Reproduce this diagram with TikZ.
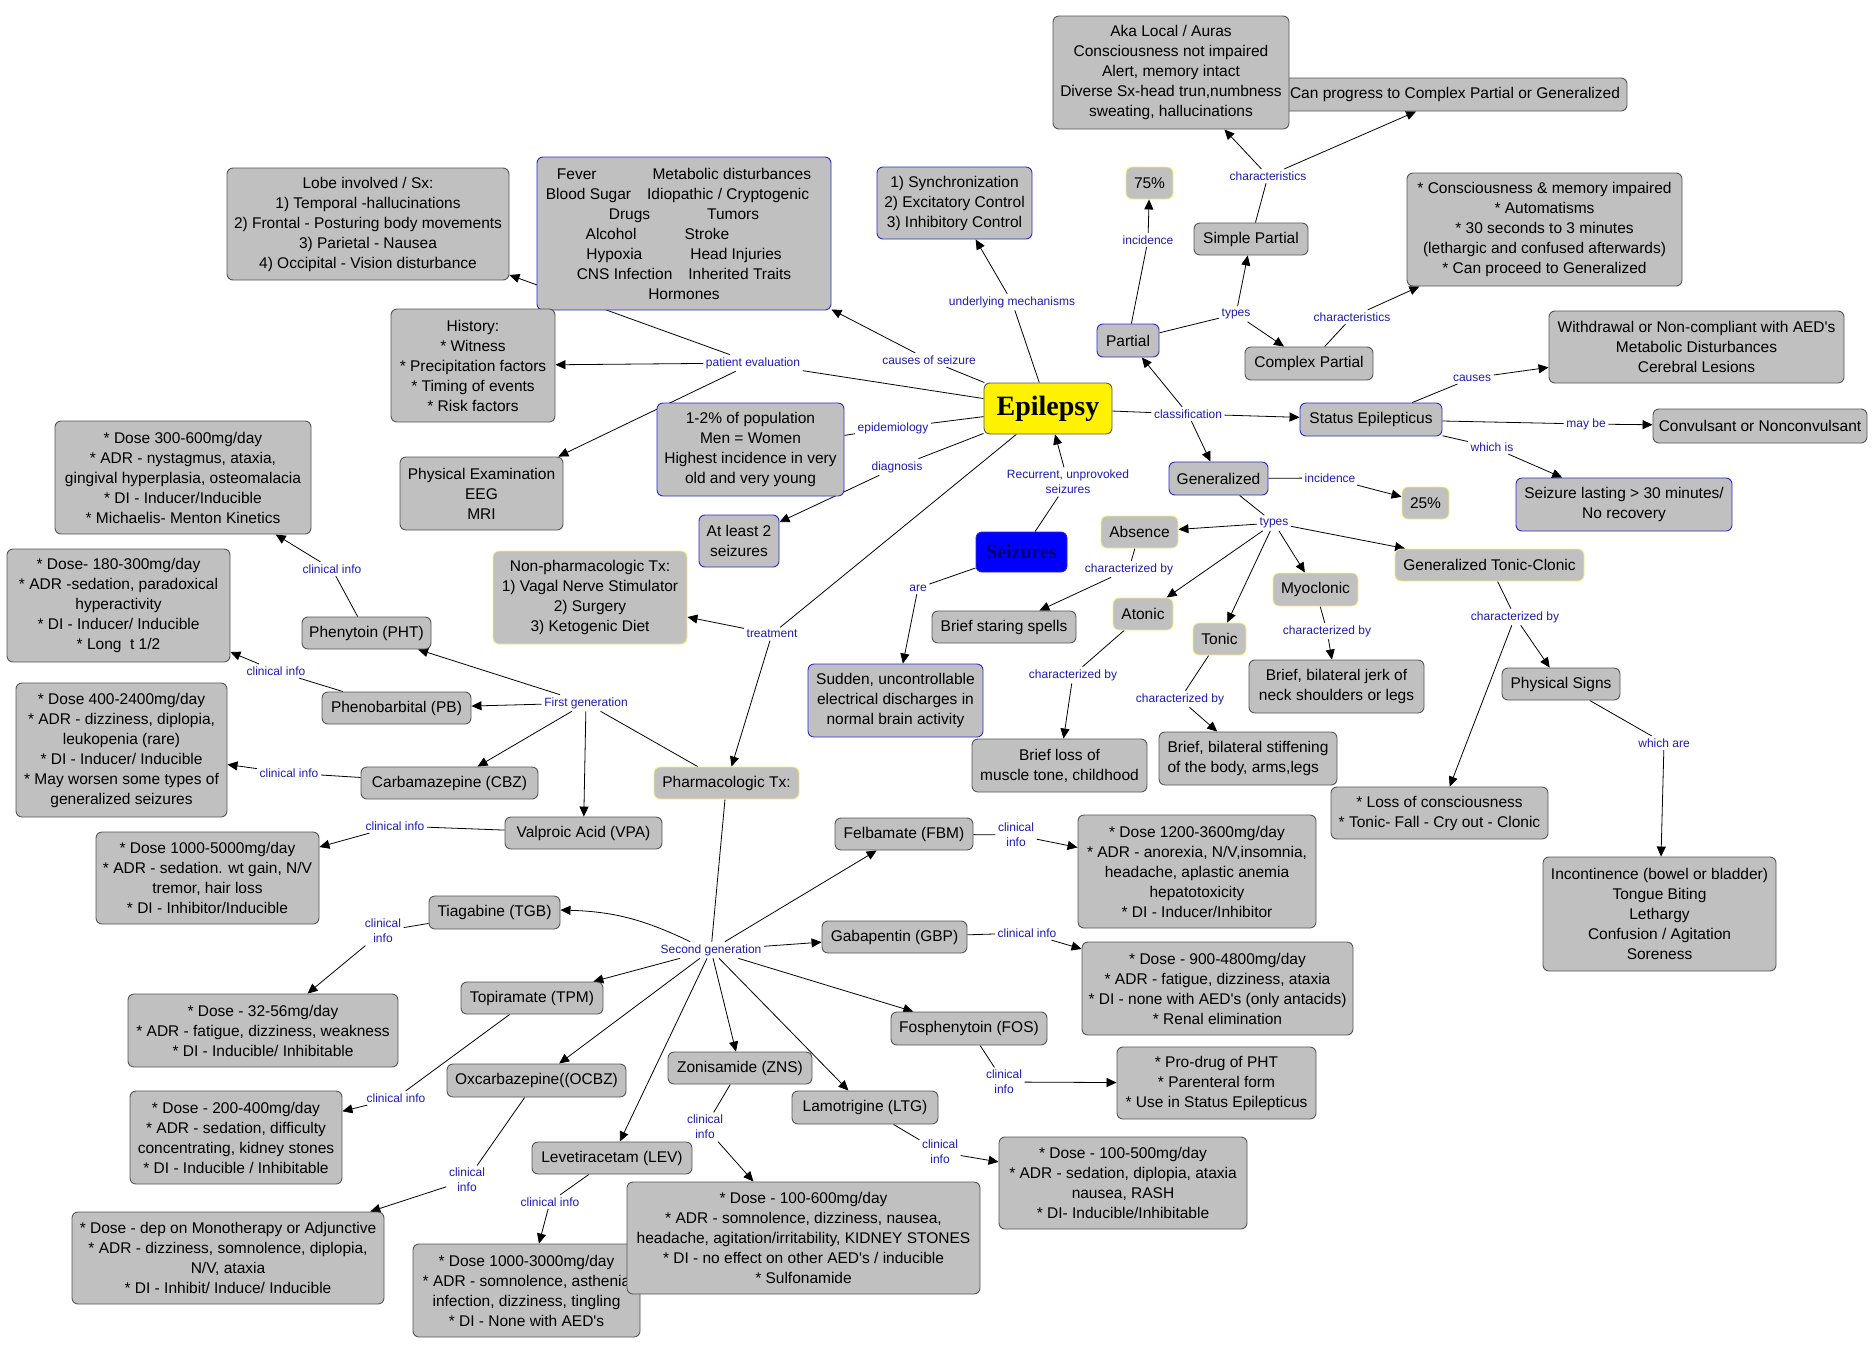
\documentclass[tikz,border=0pt]{standalone}
\usepackage{fontspec}
\setmainfont{Liberation Sans}[Ligatures=TeXOff]
\newfontfamily\titlefont{Liberation Serif}
\usetikzlibrary{arrows.meta, backgrounds}
\definecolor{conceptgray}{HTML}{C0C0C0}
\definecolor{edgegray}{HTML}{555555}
\definecolor{edgeblue}{HTML}{2A2ACF}
\definecolor{edgeyellow}{HTML}{F2F27A}
\definecolor{linkblue}{HTML}{1C1CB0}
\definecolor{seizblue}{HTML}{0000FF}
\definecolor{seiztext}{HTML}{000070}
\newcommand\colgap[1]{\rule{#1pt}{0pt}}

\begin{document}
\begin{tikzpicture}[x=1pt, y=-1pt,
  cpt/.style={draw=edgegray, line width=0.9pt, fill=conceptgray, rounded corners=6pt, align=center, inner sep=1pt, font=\fontsize{15.5}{20}\selectfont},
  cptb/.style={cpt, draw=edgeblue},
  cpty/.style={cpt, draw=edgeyellow},
  sz/.style 2 args={minimum width=#1pt, minimum height=#2pt},
  lnk/.style={text=linkblue, align=center, inner sep=2.5pt, font=\fontsize{12}{15}\selectfont},
  con/.style={draw=black, line width=0.8pt},
  rel/.style={con, -{Triangle[length=10pt, width=9pt]}}]
  \useasboundingbox (0,0) rectangle (1873,1353);
  % central concepts
  \node[cpt, fill=yellow, draw=edgegray, sz={128}{51}, font=\titlefont\bfseries\fontsize{28}{30}\selectfont] (epil) at (1048,408.5) {Epilepsy};
  \node[cpt, fill=seizblue, draw=edgeblue, sz={91}{40}, text=seiztext, font=\titlefont\bfseries\fontsize{20}{22}\selectfont] (seiz) at (1021.5,552) {Seizures};
  % left upper part
  \node[cpt, sz={282}{112}] (lobe) at (368,224) {Lobe involved / Sx:\\ 1) Temporal -hallucinations\\ 2) Frontal - Posturing body movements\\ 3) Parietal - Nausea\\ 4) Occipital - Vision disturbance};
  \node[cptb, sz={294}{153}] (causes) at (684,233.5) {Fever\colgap{56}Metabolic disturbances\\ Blood Sugar\colgap{16}Idiopathic / Cryptogenic\colgap{13}\\ Drugs\colgap{57}Tumors\\ Alcohol\colgap{48}Stroke\colgap{53}\\ Hypoxia\colgap{48}Head Injuries\\ CNS Infection\colgap{16}Inherited Traits\\ Hormones};
  \node[cptb, sz={155}{72}] (mech) at (954.5,203) {1) Synchronization\\ 2) Excitatory Control\\ 3) Inhibitory Control};
  \node[cpt, sz={164}{113}] (history) at (473,365.5) {History:\\ * Witness\\ * Precipitation factors\\ * Timing of events\\ * Risk factors};
  \node[cpt, sz={163}{73}] (pexam) at (481.5,493.5) {Physical Examination\\ EEG\\ MRI};
  \node[cptb, sz={187}{93}] (epibox) at (750.5,449.5) {1-2\% of population\\ Men = Women\\ Highest incidence in very\\ old and very young};
  \node[cptb, sz={80}{52}] (atleast) at (739,541) {At least 2\\ seizures};
  \node[cpty, sz={194}{93}] (nonpharm) at (590,597.5) {Non-pharmacologic Tx:\\ 1) Vagal Nerve Stimulator\\ 2) Surgery\\ 3) Ketogenic Diet};
  \node[cpty, sz={145}{32}] (pharm) at (726.5,783) {Pharmacologic Tx:};
  \node[cptb, sz={175}{73}] (sudden) at (895.5,700.5) {Sudden, uncontrollable\\ electrical discharges in\\ normal brain activity};
  % partial and status
  \node[cpt, sz={344}{33}] (canprog) at (1455,94.5) {Can progress to Complex Partial or Generalized};
  \node[cpt, sz={236}{113}] (aka) at (1171,72.5) {Aka Local / Auras\\ Consciousness not impaired\\ Alert, memory intact\\ Diverse Sx-head trun,numbness\\ sweating, hallucinations};
  \node[cpty, sz={47}{32}] (p75) at (1149.5,183) {75\%};
  \node[cpt, sz={114}{32}] (simple) at (1251,239) {Simple Partial};
  \node[cptb, sz={62}{33}] (partial) at (1128,340.5) {Partial};
  \node[cpt, sz={128}{33}] (complex) at (1309,363.5) {Complex Partial};
  \node[cpt, sz={275}{113}] (cpchar) at (1544.5,229.5) {* Consciousness \& memory impaired\\ * Automatisms\\ * 30 seconds to 3 minutes\\ (lethargic and confused afterwards)\\ * Can proceed to Generalized};
  \node[cptb, sz={142}{33}] (status) at (1371,419.5) {Status Epilepticus};
  \node[cpt, sz={295}{72}] (stcauses) at (1696.5,347) {Withdrawal or Non-compliant with AED's\\ Metabolic Disturbances\\ Cerebral Lesions};
  \node[cpt, sz={214}{34}] (convuls) at (1760,426) {Convulsant or Nonconvulsant};
  \node[cptb, sz={216}{53}] (lasting) at (1624,504.5) {Seizure lasting > 30 minutes/\\ No recovery};
  % generalized
  \node[cptb, sz={99}{33}] (general) at (1218.5,478.5) {Generalized};
  \node[cpty, sz={47}{32}] (p25) at (1425.5,503) {25\%};
  \node[cpty, sz={77}{32}] (absence) at (1139.5,532) {Absence};
  \node[cpt, sz={144}{32}] (staring) at (1004,627) {Brief staring spells};
  \node[cpty, sz={60}{32}] (atonic) at (1143,614) {Atonic};
  \node[cpty, sz={53}{32}] (tonic) at (1219.5,639) {Tonic};
  \node[cpty, sz={85}{33}] (myoclon) at (1315.5,589.5) {Myoclonic};
  \node[cpty, sz={189}{32}] (gtc) at (1489.5,565) {Generalized Tonic-Clonic};
  \node[cpt, sz={175}{53}] (myochar) at (1336.5,686.5) {Brief, bilateral jerk of\\ neck shoulders or legs};
  \node[cpt, sz={175}{53}] (atochar) at (1059.5,765.5) {Brief loss of\\ muscle tone, childhood};
  \node[cpt, sz={178}{53}, align=left] (tonchar) at (1248,758.5) {Brief, bilateral stiffening\\ of the body, arms,legs};
  \node[cpt, sz={217}{52}] (loss) at (1439.5,813) {* Loss of consciousness\\ * Tonic- Fall - Cry out - Clonic};
  \node[cpt, sz={118}{32}] (physig) at (1561,684) {Physical Signs};
  \node[cpt, sz={233}{114}] (incont) at (1659.5,914) {Incontinence (bowel or bladder)\\ Tongue Biting\\ Lethargy\\ Confusion / Agitation\\ Soreness};
  % first generation drugs
  \node[cpt, sz={129}{32}] (pht) at (366.5,633) {Phenytoin (PHT)};
  \node[cpt, sz={149}{32}] (pb) at (396.5,708) {Phenobarbital (PB)};
  \node[cpt, sz={177}{32}] (cbz) at (449.5,783) {Carbamazepine (CBZ)};
  \node[cpt, sz={157}{32}] (vpa) at (583.5,833) {Valproic Acid (VPA)};
  \node[cpt, sz={256}{113}] (phtinfo) at (183,477.5) {* Dose 300-600mg/day\\ * ADR - nystagmus, ataxia,\\ gingival hyperplasia, osteomalacia\\ * DI - Inducer/Inducible\\ * Michaelis- Menton Kinetics};
  \node[cpt, sz={223}{113}] (pbinfo) at (118.5,605.5) {* Dose- 180-300mg/day\\ * ADR -sedation, paradoxical\\ hyperactivity\\ * DI - Inducer/ Inducible\\ * Long\ \ t 1/2};
  \node[cpt, sz={211}{134}] (cbzinfo) at (121.5,750) {* Dose 400-2400mg/day\\ * ADR - dizziness, diplopia,\\ leukopenia (rare)\\ * DI - Inducer/ Inducible\\ * May worsen some types of\\ generalized seizures};
  \node[cpt, sz={223}{92}] (vpainfo) at (207.5,878) {* Dose 1000-5000mg/day\\ * ADR - sedation. wt gain, N/V\\ tremor, hair loss\\ * DI - Inhibitor/Inducible};
  % second generation drugs
  \node[cpt, sz={138}{32}] (fbm) at (904,834) {Felbamate (FBM)};
  \node[cpt, sz={131}{33}] (tgb) at (494.5,912.5) {Tiagabine (TGB)};
  \node[cpt, sz={145}{32}] (gbp) at (894.5,937) {Gabapentin (GBP)};
  \node[cpt, sz={142}{32}] (tpm) at (532,998) {Topiramate (TPM)};
  \node[cpt, sz={179}{33}] (ocbz) at (536.5,1080.5) {Oxcarbazepine((OCBZ)};
  \node[cpt, sz={156}{33}] (fos) at (969,1028.5) {Fosphenytoin (FOS)};
  \node[cpt, sz={144}{32}] (zns) at (740,1068) {Zonisamide (ZNS)};
  \node[cpt, sz={146}{33}] (ltg) at (865,1107.5) {Lamotrigine (LTG)};
  \node[cpt, sz={160}{32}] (lev) at (612,1158) {Levetiracetam (LEV)};
  \node[cpt, sz={238}{113}] (fbminfo) at (1197,871.5) {* Dose 1200-3600mg/day\\ * ADR - anorexia, N/V,insomnia,\\ headache, aplastic anemia\\ hepatotoxicity\\ * DI - Inducer/Inhibitor};
  \node[cpt, sz={270}{73}] (tgbinfo) at (263,1030.5) {* Dose - 32-56mg/day\\ * ADR - fatigue, dizziness, weakness\\ * DI - Inducible/ Inhibitable};
  \node[cpt, sz={271}{93}] (gbpinfo) at (1217.5,988.5) {* Dose - 900-4800mg/day\\ * ADR - fatigue, dizziness, ataxia\\ * DI - none with AED's (only antacids)\\ * Renal elimination};
  \node[cpt, sz={212}{93}] (tpminfo) at (236,1137.5) {* Dose - 200-400mg/day\\ * ADR - sedation, difficulty\\ concentrating, kidney stones\\ * DI - Inducible / Inhibitable};
  \node[cpt, sz={312}{92}] (ocbzinfo) at (228,1258) {* Dose - dep on Monotherapy or Adjunctive\\ * ADR - dizziness, somnolence, diplopia,\\ N/V, ataxia\\ * DI - Inhibit/ Induce/ Inducible};
  \node[cpt, sz={199}{72}] (fosinfo) at (1216.5,1083) {* Pro-drug of PHT\\ * Parenteral form\\ * Use in Status Epilepticus};
  \node[cpt, sz={227}{93}] (levinfo) at (526.5,1290.5) {* Dose 1000-3000mg/day\\ * ADR - somnolence, asthenia\\ infection, dizziness, tingling\\ * DI - None with AED's};
  \node[cpt, sz={353}{112}] (znsinfo) at (803.5,1238) {* Dose - 100-600mg/day\\ * ADR - somnolence, dizziness, nausea,\\ headache, agitation/irritability, KIDNEY STONES\\ * DI - no effect on other AED's / inducible\\ * Sulfonamide};
  \node[cpt, sz={248}{92}] (ltginfo) at (1123,1183) {* Dose - 100-500mg/day\\ * ADR - sedation, diplopia, ataxia\\ nausea, RASH\\ * DI- Inducible/Inhibitable};
  % linking phrases
  \node[lnk] (lpat) at (753,363) {patient evaluation};
  \node[lnk] (lcause) at (929,360) {causes of seizure};
  \node[lnk] (lmech) at (1012,302) {underlying mechanisms};
  \node[lnk] (lepid) at (893,428) {epidemiology};
  \node[lnk] (ldiag) at (897,467) {diagnosis};
  \node[lnk] (ltreat) at (772,634) {treatment};
  \node[lnk] (lrecur) at (1068,482) {Recurrent, unprovoked\\ seizures};
  \node[lnk] (lare) at (918,588) {are};
  \node[lnk] (lclass) at (1188,414) {classification};
  \node[lnk] (lincp) at (1148,240) {incidence};
  \node[lnk] (ltypp) at (1236,314) {types};
  \node[lnk] (lchsp) at (1268,176) {characteristics};
  \node[lnk] (lchcp) at (1352,317) {characteristics};
  \node[lnk] (lstc) at (1472,378) {causes};
  \node[lnk] (lmay) at (1586,424) {may be};
  \node[lnk] (lwis) at (1492,447) {which is};
  \node[lnk] (lincg) at (1330,478) {incidence};
  \node[lnk] (ltypg) at (1274,523) {types};
  \node[lnk] (lchab) at (1129,569) {characterized by};
  \node[lnk] (lchat) at (1073,675) {characterized by};
  \node[lnk] (lchto) at (1180,699) {characterized by};
  \node[lnk] (lchmy) at (1327,631) {characterized by};
  \node[lnk] (lchgt) at (1515,617) {characterized by};
  \node[lnk] (lwar) at (1664,743) {which are};
  \node[lnk] (lfirst) at (586,703) {First generation};
  \node[lnk] (lsecond) at (711,950) {Second generation};
  \node[lnk] (lcpht) at (332,569) {clinical info};
  \node[lnk] (lcpb) at (276,671) {clinical info};
  \node[lnk] (lccbz) at (289,773) {clinical info};
  \node[lnk] (lcvpa) at (395,826) {clinical info};
  \node[lnk] (lctgb) at (383,931) {clinical\\ info};
  \node[lnk] (lctpm) at (396,1098) {clinical info};
  \node[lnk] (lcocbz) at (467,1180) {clinical\\ info};
  \node[lnk] (lclev) at (550,1202) {clinical info};
  \node[lnk] (lczns) at (705,1127) {clinical\\ info};
  \node[lnk] (lcltg) at (940,1152) {clinical\\ info};
  \node[lnk] (lcfbm) at (1016,835) {clinical\\ info};
  \node[lnk] (lcgbp) at (1027,933) {clinical info};
  \node[lnk] (lcfos) at (1004,1082) {clinical\\ info};
  \begin{pgfonlayer}{background}
    \fill[white] (0,0) rectangle (1873,1353);
    \foreach \s/\l in {epil/lpat, epil/lcause, epil/lmech, epil/lepid, epil/ldiag, epil/ltreat, seiz/lrecur, seiz/lare, epil/lclass, partial/lincp, partial/ltypp, simple/lchsp, complex/lchcp, status/lstc, status/lmay, status/lwis, general/lincg, general/ltypg, absence/lchab, atonic/lchat, tonic/lchto, myoclon/lchmy, gtc/lchgt, physig/lwar, pharm/lfirst, pharm/lsecond, pht/lcpht, pb/lcpb, cbz/lccbz, vpa/lcvpa, tgb/lctgb, tpm/lctpm, ocbz/lcocbz, lev/lclev, zns/lczns, ltg/lcltg, fbm/lcfbm, gbp/lcgbp, fos/lcfos, lepid/epibox}
      \draw[con] (\s) -- (\l);
    \foreach \l/\t in {lpat/history, lpat/pexam, lpat/lobe, lcause/causes, lmech/mech, ldiag/atleast, ltreat/nonpharm, ltreat/pharm, lrecur/epil, lare/sudden, lclass/partial, lclass/status, lclass/general, lincp/p75, ltypp/simple, ltypp/complex, lchsp/aka, lchsp/canprog, lchcp/cpchar, lstc/stcauses, lmay/convuls, lwis/lasting, lincg/p25, ltypg/absence, ltypg/atonic, ltypg/tonic, ltypg/myoclon, ltypg/gtc, lchab/staring, lchat/atochar, lchto/tonchar, lchmy/myochar, lchgt/loss, lchgt/physig, lwar/incont, lfirst/pht, lfirst/pb, lfirst/cbz, lfirst/vpa, lsecond/fbm, lsecond/gbp, lsecond/tpm, lsecond/ocbz, lsecond/lev, lsecond/zns, lsecond/ltg, lsecond/fos, lcpht/phtinfo, lcpb/pbinfo, lccbz/cbzinfo, lcvpa/vpainfo, lctgb/tgbinfo, lctpm/tpminfo, lcocbz/ocbzinfo, lclev/levinfo, lczns/znsinfo, lcltg/ltginfo, lcfbm/fbminfo, lcgbp/gbpinfo, lcfos/fosinfo}
      \draw[rel] (\l) -- (\t);
    \draw[rel] (lsecond) to[bend right=12] (tgb);
  \end{pgfonlayer}
\end{tikzpicture}
\end{document}
